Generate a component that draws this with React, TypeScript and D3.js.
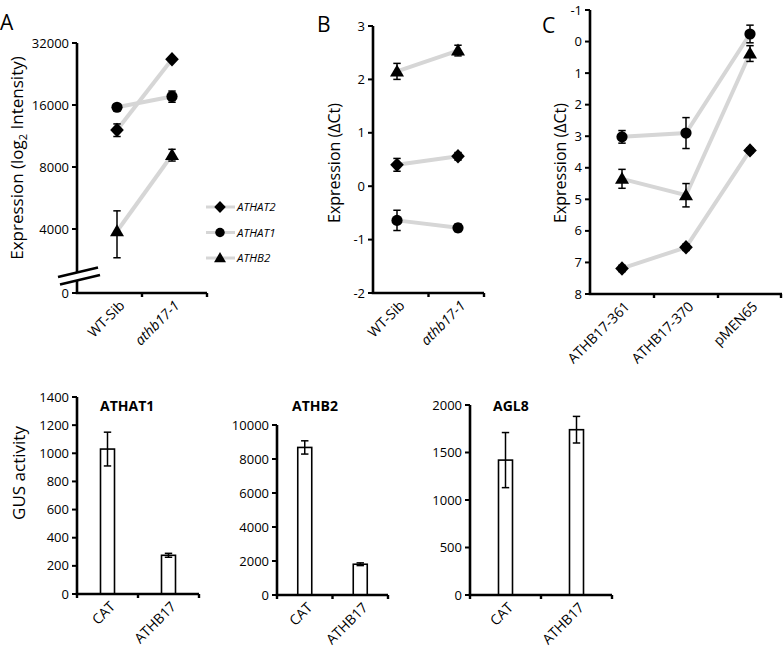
import React from "react";
import * as d3 from "d3";

// ---------- Data ----------
const catsA = ["WT-Sib", "athb17-1"];
const seriesNames = ["ATHAT2", "ATHAT1", "ATHB2"];
const aATHAT2 = [12100, 26700];
const aATHAT2Err = [850, 500];
const aATHAT1 = [15600, 17600];
const aATHAT1Err = [400, 1100];
const aATHB2 = [3900, 9150];
const aATHB2Err = [1000, 600];
const ticksA = [4000, 8000, 16000, 32000];

const catsB = ["WT-Sib", "athb17-1"];
const bATHAT2 = [0.4, 0.56];
const bATHAT2Err = [0.12, 0.07];
const bATHAT1 = [-0.64, -0.78];
const bATHAT1Err = [0.19, 0.07];
const bATHB2 = [2.15, 2.54];
const bATHB2Err = [0.15, 0.1];
const ticksB = [-2, -1, 0, 1, 2, 3];

const catsC = ["ATHB17-361", "ATHB17-370", "pMEN65"];
const cATHAT2 = [7.19, 6.52, 3.45];
const cATHAT2Err = [0.1, 0.1, 0.08];
const cATHAT1 = [3.02, 2.9, -0.24];
const cATHAT1Err = [0.2, 0.49, 0.28];
const cATHB2 = [4.35, 4.87, 0.38];
const cATHB2Err = [0.3, 0.37, 0.25];
const ticksC = [-1, 0, 1, 2, 3, 4, 5, 6, 7, 8];

const catsGus = ["CAT", "ATHB17"];
const gusATHAT1 = [1030, 275];
const gusATHAT1Err = [120, 14];
const gusATHB2 = [8680, 1810];
const gusATHB2Err = [390, 80];
const gusAGL8 = [1420, 1740];
const gusAGL8Err = [290, 140];

const FONT = "'Open Sans', 'DejaVu Sans', sans-serif";
const LINE_GRAY = "#d6d6d6";

// ---------- Symbols ----------
const diamondType = {
  draw(ctx: any, _s: number) {
    ctx.moveTo(0, -7.2);
    ctx.lineTo(6.8, 0);
    ctx.lineTo(0, 7.2);
    ctx.lineTo(-6.8, 0);
    ctx.closePath();
  },
};
const triangleType = {
  draw(ctx: any, _s: number) {
    ctx.moveTo(0, -7);
    ctx.lineTo(7, 5);
    ctx.lineTo(-7, 5);
    ctx.closePath();
  },
};
const circleType = {
  draw(ctx: any, _s: number) {
    ctx.moveTo(5.6, 0);
    ctx.arc(0, 0, 5.6, 0, 2 * Math.PI);
  },
};
const symbolTypes = [diamondType, circleType, triangleType];
const symPath = (i: number) => d3.symbol().type(symbolTypes[i] as any).size(1)() as string;

// ---------- Helpers ----------
function YAxis({ x, scale, ticks, fmt, top, bottom }: any) {
  return (
    <g>
      <line x1={x} x2={x} y1={top} y2={bottom} stroke="#000" strokeWidth={2.6} />
      {ticks.map((t: any, i: number) => (
        <g key={i}>
          <line x1={x - 5} x2={x} y1={scale(t)} y2={scale(t)} stroke="#000" strokeWidth={2} />
          <text x={x - 8} y={scale(t)} dy="0.35em" textAnchor="end" fontSize={13} fontFamily={FONT}>
            {fmt ? fmt(t) : t}
          </text>
        </g>
      ))}
    </g>
  );
}

function XAxis({ x0, x1, y, tickXs }: any) {
  return (
    <g>
      <line x1={x0 - 1.3} x2={x1} y1={y} y2={y} stroke="#000" strokeWidth={2.6} />
      {tickXs.map((t: number, i: number) => (
        <line key={i} x1={t} x2={t} y1={y} y2={y + 4} stroke="#000" strokeWidth={2.4} />
      ))}
    </g>
  );
}

function XLabels({ cats, xs, y, italic }: any) {
  return (
    <g>
      {cats.map((c: string, i: number) => (
        <text
          key={c}
          transform={`translate(${xs(c) + 5},${y + 10}) rotate(-45)`}
          textAnchor="end"
          dy="0.35em"
          fontSize={14}
          fontFamily={FONT}
          fontStyle={italic && i === 1 ? "italic" : "normal"}
        >
          {c}
        </text>
      ))}
    </g>
  );
}

function Series({ cats, xs, ys, values, errs, sym }: any) {
  const line = d3
    .line<number>()
    .x((_d, i) => xs(cats[i]))
    .y((d) => ys(d));
  return (
    <g>
      <path d={line(values) as string} fill="none" stroke={LINE_GRAY} strokeWidth={4} />
      {values.map((v: number, i: number) => {
        const cx = xs(cats[i]);
        const yTop = ys(v + errs[i]);
        const yBot = ys(v - errs[i]);
        return (
          <g key={i}>
            <line x1={cx} x2={cx} y1={yTop} y2={yBot} stroke="#000" strokeWidth={1.5} />
            <line x1={cx - 3.7} x2={cx + 3.7} y1={yTop} y2={yTop} stroke="#000" strokeWidth={1.5} />
            <line x1={cx - 3.7} x2={cx + 3.7} y1={yBot} y2={yBot} stroke="#000" strokeWidth={1.5} />
            <path d={symPath(sym)} transform={`translate(${cx},${ys(v)})`} fill="#000" />
          </g>
        );
      })}
    </g>
  );
}

function BarPanel({ x0, x1, top, bottom, max, step, values, errs, title, titleX }: any) {
  const y = d3.scaleLinear().domain([0, max]).range([bottom, top]);
  const xb = d3.scaleBand().domain(catsGus).range([x0, x1]);
  const xc = (c: string) => (xb(c) as number) + xb.bandwidth() / 2;
  const ticks = d3.range(0, max + 1, step);
  const bw = 14;
  return (
    <g>
      {values.map((v: number, i: number) => {
        const cx = xc(catsGus[i]);
        const yTop = y(v + errs[i]);
        const yBot = y(v - errs[i]);
        return (
          <g key={i}>
            <rect x={cx - bw / 2} y={y(v)} width={bw} height={bottom - y(v)} fill="#fff" stroke="#000" strokeWidth={1.6} />
            <line x1={cx} x2={cx} y1={yTop} y2={yBot} stroke="#000" strokeWidth={1.5} />
            <line x1={cx - 3.7} x2={cx + 3.7} y1={yTop} y2={yTop} stroke="#000" strokeWidth={1.5} />
            <line x1={cx - 3.7} x2={cx + 3.7} y1={yBot} y2={yBot} stroke="#000" strokeWidth={1.5} />
          </g>
        );
      })}
      <YAxis x={x0} scale={y} ticks={ticks} top={top} bottom={bottom} />
      <XAxis x0={x0} x1={x1} y={bottom} tickXs={[x0, x0 + xb.bandwidth(), x1]} />
      <XLabels cats={catsGus} xs={xc} y={bottom} />
      <text x={titleX} y={411} fontSize={14} fontWeight="bold" fontFamily={FONT}>
        {title}
      </text>
    </g>
  );
}

export default function App() {
  // Panel A
  const yA = d3.scaleLog().base(2).domain([4000, 32000]).range([229, 43]);
  const bandA = d3.scaleBand().domain(catsA).range([77, 207]);
  const pA = d3.scalePoint().domain(catsA).range([117, 172]);
  const xA = (c: string) => pA(c) as number;

  // Panel B
  const yB = d3.scaleLinear().domain([-2, 3]).range([293, 26]);
  const bandB = d3.scaleBand().domain(catsB).range([373, 484]);
  const pB = d3.scalePoint().domain(catsB).range([397, 458]);
  const xB = (c: string) => pB(c) as number;

  // Panel C
  const yC = d3.scaleLinear().domain([-1, 8]).range([10, 294]);
  const bandC = d3.scaleBand().domain(catsC).range([590, 782]);
  const xC = (c: string) => (bandC(c) as number) + bandC.bandwidth() / 2;

  const aVals = [aATHAT2, aATHAT1, aATHB2];
  const aErrs = [aATHAT2Err, aATHAT1Err, aATHB2Err];
  const bVals = [bATHAT2, bATHAT1, bATHB2];
  const bErrs = [bATHAT2Err, bATHAT1Err, bATHB2Err];
  const cVals = [cATHAT2, cATHAT1, cATHB2];
  const cErrs = [cATHAT2Err, cATHAT1Err, cATHB2Err];

  return (
    <svg width={783} height={652} style={{ position: "absolute", left: 0, top: 0, background: "#fff" }}>
      {/* Panel letters */}
      <text x={0} y={30} fontSize={21} fontFamily={FONT}>A</text>
      <text x={317} y={32} fontSize={21} fontFamily={FONT}>B</text>
      <text x={542} y={33} fontSize={21} fontFamily={FONT}>C</text>

      {/* ===== Panel A ===== */}
      <text transform="translate(23,158) rotate(-90)" textAnchor="middle" fontSize={17} fontFamily={FONT}>
        Expression (log<tspan fontSize={11} dy={4}>2</tspan>
        <tspan dy={-4}> Intensity)</tspan>
      </text>
      {aVals.map((v, i) => (
        <Series key={i} cats={catsA} xs={xA} ys={yA} values={v} errs={aErrs[i]} sym={i} />
      ))}
      <YAxis x={77} scale={yA} ticks={ticksA} top={43} bottom={293} />
      <line x1={72} x2={77} y1={293} y2={293} stroke="#000" strokeWidth={2} />
      <text x={69} y={293} dy="0.35em" textAnchor="end" fontSize={13} fontFamily={FONT}>0</text>
      {/* axis break */}
      <polygon points="58,277 98,267.5 100,275 60,284.5" fill="#fff" />
      <line x1={58} y1={277} x2={98} y2={267.5} stroke="#000" strokeWidth={2.6} />
      <line x1={60} y1={284.5} x2={100} y2={275} stroke="#000" strokeWidth={2.6} />
      <XAxis x0={77} x1={207} y={293} tickXs={[77 + bandA.bandwidth(), 207]} />
      <XLabels cats={catsA} xs={xA} y={293} italic />

      {/* Legend */}
      {seriesNames.map((n, i) => {
        const ly = 207 + i * 25.5;
        return (
          <g key={n}>
            <line x1={206} x2={235} y1={ly} y2={ly} stroke={LINE_GRAY} strokeWidth={3} />
            <path d={symPath(i)} transform={`translate(220,${ly}) scale(0.85)`} fill="#000" />
            <text x={237} y={ly} dy="0.35em" fontSize={11.5} fontStyle="italic" fontFamily={FONT}>{n}</text>
          </g>
        );
      })}

      {/* ===== Panel B ===== */}
      <text transform="translate(340,163) rotate(-90)" textAnchor="middle" fontSize={16} fontFamily={FONT}>
        Expression (ΔCt)
      </text>
      {bVals.map((v, i) => (
        <Series key={i} cats={catsB} xs={xB} ys={yB} values={v} errs={bErrs[i]} sym={i} />
      ))}
      <YAxis x={373} scale={yB} ticks={ticksB} top={26} bottom={293} />
      <XAxis x0={373} x1={484} y={293} tickXs={[373 + bandB.bandwidth(), 484]} />
      <XLabels cats={catsB} xs={xB} y={293} italic />

      {/* ===== Panel C ===== */}
      <text transform="translate(566,163) rotate(-90)" textAnchor="middle" fontSize={16} fontFamily={FONT}>
        Expression (ΔCt)
      </text>
      {cVals.map((v, i) => (
        <Series key={i} cats={catsC} xs={xC} ys={(d: number) => yC(d)} values={v} errs={cErrs[i]} sym={i} />
      ))}
      <YAxis x={590} scale={yC} ticks={ticksC} top={10} bottom={294} />
      <XAxis
        x0={590}
        x1={782}
        y={294}
        tickXs={catsC.slice(1).map((c) => bandC(c) as number).concat([781])}
      />
      <XLabels cats={catsC} xs={xC} y={294} />

      {/* ===== Bottom panels ===== */}
      <text transform="translate(25,473) rotate(-90)" textAnchor="middle" fontSize={17} fontFamily={FONT}>
        GUS activity
      </text>
      <BarPanel x0={77} x1={199} top={397} bottom={594} max={1400} step={200}
        values={gusATHAT1} errs={gusATHAT1Err} title="ATHAT1" titleX={100} />
      <BarPanel x0={277} x1={388} top={425} bottom={595} max={10000} step={2000}
        values={gusATHB2} errs={gusATHB2Err} title="ATHB2" titleX={292} />
      <BarPanel x0={470} x1={612} top={405} bottom={595} max={2000} step={500}
        values={gusAGL8} errs={gusAGL8Err} title="AGL8" titleX={493} />
    </svg>
  );
}
